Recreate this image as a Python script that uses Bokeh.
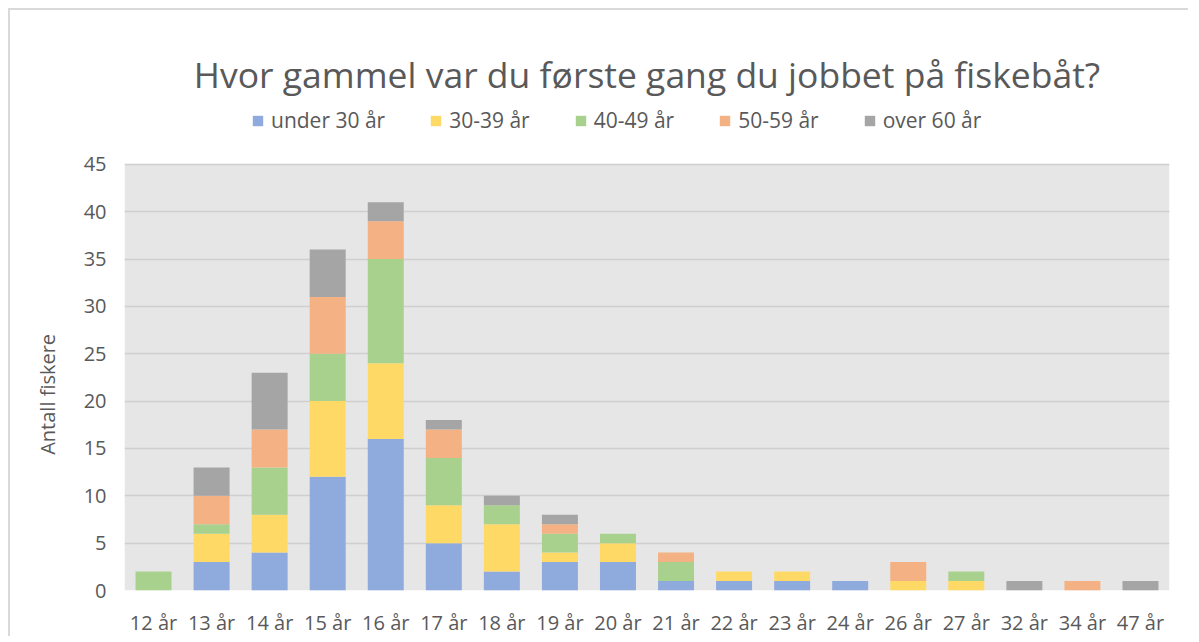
from bokeh.plotting import figure
from bokeh.models import Legend, LegendItem, FixedTicker, Range1d, ColumnDataSource, BoxAnnotation
from bokeh.embed import file_html
from bokeh.resources import INLINE

ages = ["12 år", "13 år", "14 år", "15 år", "16 år", "17 år", "18 år", "19 år", "20 år",
        "21 år", "22 år", "23 år", "24 år", "26 år", "27 år", "32 år", "34 år", "47 år"]
under30 = [0, 3, 4, 12, 16, 5, 2, 3, 3, 1, 1, 1, 1, 0, 0, 0, 0, 0]
g30_39 = [0, 3, 4, 8, 8, 4, 5, 1, 2, 0, 1, 1, 0, 1, 1, 0, 0, 0]
g40_49 = [2, 1, 5, 5, 11, 5, 2, 2, 1, 2, 0, 0, 0, 0, 1, 0, 0, 0]
g50_59 = [0, 3, 4, 6, 4, 3, 0, 1, 0, 1, 0, 0, 0, 2, 0, 0, 1, 0]
over60 = [0, 3, 6, 5, 2, 1, 1, 1, 0, 0, 0, 0, 0, 0, 0, 1, 0, 1]
series_names = ["under 30 år", "30-39 år", "40-49 år", "50-59 år", "over 60 år"]
colors = ["#8FAADC", "#FFD966", "#A9D18E", "#F4B183", "#A5A5A5"]
y_ticks = [0, 5, 10, 15, 20, 25, 30, 35, 40, 45]
y_max = 45

keys = ["s0", "s1", "s2", "s3", "s4"]
source = ColumnDataSource(dict(age=ages, s0=under30, s1=g30_39, s2=g40_49, s3=g50_59, s4=over60))

FONT = "Open Sans"
TXT = "#595959"

# frame extends above the gray plot area so that the legend can sit inside it
p = figure(x_range=ages, y_range=Range1d(0, 51.85), width=1180, height=628,
           output_backend="svg", toolbar_location=None,
           title="Hvor gammel var du første gang du jobbet på fiskebåt?")
p.min_border_left = 114
p.min_border_right = 21
p.min_border_bottom = 47
p.min_border_top = 89

p.background_fill_color = "white"
p.border_fill_color = "white"
p.outline_line_color = None

plot_bg = BoxAnnotation(bottom=0, top=y_max, fill_color="#E7E6E6", fill_alpha=1,
                        line_color=None, level="image")
p.add_layout(plot_bg)

renderers = p.vbar_stack(keys, x="age", width=0.62, color=colors, source=source, line_width=0)

p.title.text_font = FONT
p.title.text_font_size = "35.5px"
p.title.text_font_style = "normal"
p.title.text_color = TXT
p.title.align = "center"
p.title.standoff = 3

p.yaxis.ticker = FixedTicker(ticks=y_ticks)
p.ygrid.ticker = FixedTicker(ticks=y_ticks)
p.ygrid.grid_line_color = "#D0CECE"
p.ygrid.grid_line_width = 1.5
p.xgrid.grid_line_color = None

for ax in (p.xaxis, p.yaxis):
    ax.axis_line_color = None
    ax.major_tick_line_color = None
    ax.minor_tick_line_color = None
    ax.major_label_text_font = FONT
    ax.major_label_text_font_size = "20px"
    ax.major_label_text_color = TXT

p.xaxis.major_label_standoff = 12
p.yaxis.major_label_standoff = 12
# non-breaking spaces keep the label centred on the gray plot area, not on the taller frame
p.yaxis.axis_label = "Antall fiskere" + "\u00a0" * 19
p.yaxis.axis_label_text_font = FONT
p.yaxis.axis_label_text_font_size = "20px"
p.yaxis.axis_label_text_font_style = "normal"
p.yaxis.axis_label_text_color = TXT
p.yaxis.axis_label_standoff = 20

items = [LegendItem(label=n, renderers=[r]) for n, r in zip(series_names, renderers)]
legend = Legend(items=items, orientation="horizontal", location=(127, 456),
                label_text_font=FONT, label_text_font_size="21px", label_text_color=TXT,
                glyph_width=13, glyph_height=13, spacing=44, label_standoff=7,
                border_line_color=None, background_fill_alpha=0, padding=0, margin=0)
p.add_layout(legend, "center")

p.styles = {"margin": "8px 0 0 8px", "border-top": "2px solid #D9D9D9",
            "border-left": "2px solid #D9D9D9"}

open("out.html", "w").write(file_html(p, INLINE))
